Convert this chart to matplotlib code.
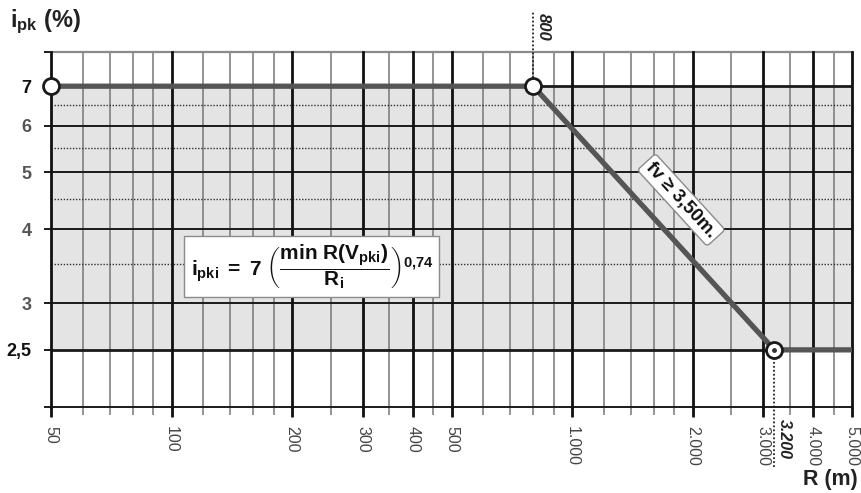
import numpy as np
import matplotlib
matplotlib.use("Agg")
import matplotlib.pyplot as plt
from matplotlib.ticker import NullFormatter

plt.rcParams['font.family'] = ['Liberation Sans', 'DejaVu Sans']
plt.rcParams['mathtext.fontset'] = 'custom'
plt.rcParams['mathtext.rm'] = 'Liberation Sans'
plt.rcParams['mathtext.bf'] = 'Liberation Sans:bold'
plt.rcParams['mathtext.it'] = 'Liberation Sans:italic'
plt.rcParams['mathtext.default'] = 'bf'

# gradient limit vs curve radius
radius = [50, 800, 3200, 5000]
gradient = [7, 7, 2.5, 2.5]
marked = [0, 1, 2]          # indices of the circled break points

x_major = [50, 100, 200, 300, 400, 500, 1000, 2000, 3000, 4000, 5000]
x_major_labels = ['50', '100', '200', '300', '400', '500',
                  '1.000', '2.000', '3.000', '4.000', '5.000']
x_minor = [60, 70, 80, 90, 120, 140, 160, 180, 250, 350, 450,
           600, 700, 800, 900, 1200, 1400, 1600, 1800, 2500, 3500, 4500]
y_major = [2, 3, 4, 5, 6]
y_bold = [2.5, 7]
y_top = 8
y_dotted = [3.5, 4.5, 5.5, 6.5]
y_ticks = [2, 2.5, 3, 4, 5, 6, 7, 8]
y_tick_labels = ['', '2,5', '3', '4', '5', '6', '7', '']

r_min, r_flat = 800, 3200

fig = plt.figure(figsize=(8.62, 4.93), dpi=100)
ax = fig.add_axes([51 / 862, 86 / 493, 801 / 862, 355 / 493])
ax.set_xscale('log')
ax.set_yscale('log')
ax.set_xlim(50, 5000)
ax.set_ylim(2, 8)
for s in ax.spines.values():
    s.set_visible(False)

# shaded band between the two limits
ax.axhspan(min(gradient), max(gradient), color='#e4e4e4', zorder=0)

# grid drawn by hand
for x in x_minor:
    ax.axvline(x, color='#808080', lw=1.2, zorder=1)
for y in y_dotted:
    ax.axhline(y, color='#333333', lw=1.0, ls=(0, (1, 1.2)), zorder=1)
for y in y_major:
    ax.axhline(y, color='#1a1a1a', lw=1.4, zorder=2, clip_on=False)
ax.axhline(y_top, color='#8a8a8a', lw=1.6, zorder=2, clip_on=False)
for y in y_bold:
    ax.axhline(y, color='#1a1a1a', lw=2.0, zorder=2)
for x in x_major:
    ax.axvline(x, color='#111111', lw=2.0, zorder=2, clip_on=False)

ax.set_xticks(x_major, labels=x_major_labels)
ax.set_xticks(x_minor, minor=True)
ax.xaxis.set_minor_formatter(NullFormatter())
ax.tick_params(axis='x', which='major', direction='out', length=7, width=2,
               color='#111111', pad=7, labelsize=11.5, labelcolor='#444444',
               labelrotation=-90)
ax.tick_params(axis='x', which='minor', direction='out', length=6, width=1.2,
               color='#808080')
for lab in ax.get_xticklabels():
    lab.set_va('top')
    lab.set_ha('center')

ax.set_yticks(y_ticks, labels=y_tick_labels)
ax.set_yticks([], minor=True)
ax.tick_params(axis='y', which='major', direction='out', length=5, width=1.4,
               color='#1a1a1a', pad=9, labelsize=13)
for lab, v in zip(ax.get_yticklabels(), y_ticks):
    lab.set_fontweight('bold')
    lab.set_color('#111111' if v in y_bold else '#555555')

# the limit curve
ax.plot(radius, gradient, color='#555555', lw=3.8, zorder=4,
        solid_capstyle='butt')
ax.plot([radius[i] for i in marked], [gradient[i] for i in marked], 'o',
        ms=11.5, mfc='white', mec='#1a1a1a', mew=2.0, zorder=5, clip_on=False)
ax.plot([r_flat], [min(gradient)], 'o', ms=2.5, color='#333333', zorder=6)

# reference radii
ax.plot([r_min, r_min], [max(gradient), 9.35], color='#222222', lw=1.3,
        ls=(0, (1, 1.2)), zorder=3, clip_on=False)
ax.text(r_min * 1.012, 9.3, '800', rotation=-90, ha='left', va='top',
        fontsize=12, fontweight='bold', fontstyle='italic', color='#222222')
ax.plot([r_flat, r_flat], [min(gradient), 1.58], color='#222222', lw=1.3,
        ls=(0, (1, 1.2)), zorder=3, clip_on=False)
ax.text(r_flat * 1.012, 1.91, '3.200', rotation=-90, ha='left', va='top',
        fontsize=11.5, fontweight='bold', fontstyle='italic', color='#222222')

# formula box
ax.text(224, 3.46,
        r'$i_{pki}\ =\ 7\ \left(\dfrac{min\ R(V_{pki})}{R_i}\right)^{0{,}74}$',
        ha='center', va='center', fontsize=15, color='#111111', zorder=7,
        bbox=dict(boxstyle='square,pad=0.3', fc='white', ec='#8a8a8a', lw=1.0))

# tilted annotation along the sloped segment
p0 = ax.transData.transform((radius[1], gradient[1]))
p1 = ax.transData.transform((radius[2], gradient[2]))
angle = np.degrees(np.arctan2(p1[1] - p0[1], p1[0] - p0[0]))
ax.text(1873, 4.49, 'fv \u2265 3,50m.', rotation=angle, rotation_mode='anchor',
        ha='center', va='center', fontsize=13.5, fontweight='bold',
        color='#111111', zorder=7,
        bbox=dict(boxstyle='round,pad=0.2,rounding_size=0.2', fc='white',
                  ec='#8a8a8a', lw=1.0))

fig.text(10 / 862, 1 - 22 / 493, r'$i_{pk}$ (%)', ha='left', va='center',
         fontsize=17, fontweight='bold', color='#222222')
fig.text(858 / 862, 1 - 479 / 493, 'R (m)', ha='right', va='center',
         fontsize=15.5, fontweight='bold', color='#222222')

fig.savefig('out.png', dpi=100)
